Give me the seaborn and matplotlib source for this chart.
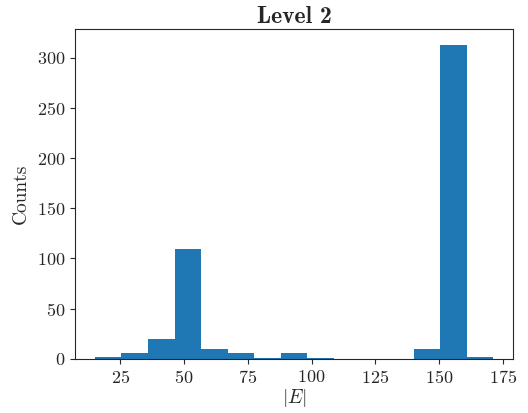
import matplotlib
matplotlib.use("Agg")
import matplotlib.pyplot as plt
import numpy as np
import pandas as pd
import seaborn as sns

# Histogram of |E| for level 2: 15 equal bins between the extreme values
e_min, e_max = 15.0, 171.2
n_bins = 15
counts = [2, 6, 20, 109, 10, 6, 1, 6, 1, 0, 0, 0, 10, 313, 2]

edges = np.linspace(e_min, e_max, n_bins + 1)
centers = (edges[:-1] + edges[1:]) / 2
df = pd.DataFrame({"E": centers, "n": counts})

sns.set_style("ticks")
plt.rcParams["font.family"] = "serif"
plt.rcParams["font.serif"] = ["cmr10"]
plt.rcParams["mathtext.fontset"] = "cm"
plt.rcParams["axes.formatter.use_mathtext"] = True
plt.rcParams["axes.unicode_minus"] = False

fig = plt.figure(figsize=(5.28, 4.13), dpi=100)
ax = fig.add_axes([0.142, 0.131, 0.830, 0.799])

sns.histplot(data=df, x="E", weights="n", bins=list(edges), ax=ax,
             color="#1f77b4", alpha=1.0, linewidth=0)

ax.set_xlim(e_min - 0.05 * (e_max - e_min), e_max + 0.05 * (e_max - e_min))
ax.set_xticks([25, 50, 75, 100, 125, 150, 175])
ax.set_yticks([0, 50, 100, 150, 200, 250, 300])
ax.tick_params(labelsize=13, length=3.5, width=0.8, direction="out")
ax.set_xlabel(r"$|E|$", fontsize=14, labelpad=1)
ax.set_ylabel("Counts", fontsize=14, labelpad=5)
ax.set_title("Level 2", fontsize=17, family="cmb10", pad=4)
for s in ax.spines.values():
    s.set_linewidth(0.8)

fig.savefig("out.png", dpi=100)
